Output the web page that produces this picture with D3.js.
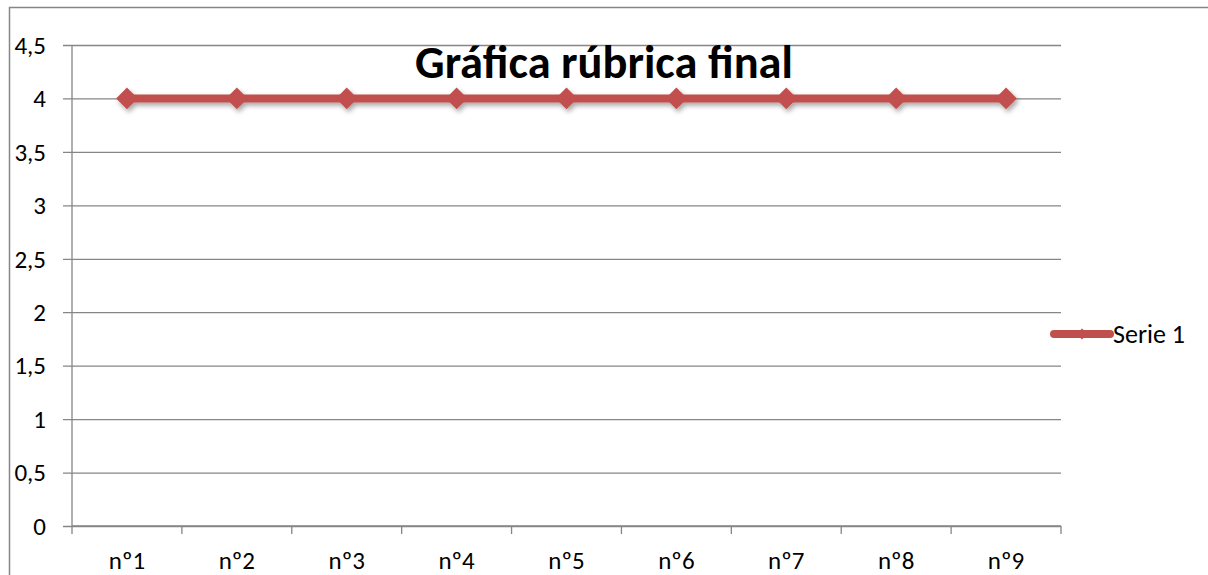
<!DOCTYPE html>
<html>
<head>
<meta charset="utf-8">
<script src="https://cdn.jsdelivr.net/npm/d3@7"></script>
<style>
  body { margin: 0; background: #fff; }
  svg { display: block; font-family: Carlito, Calibri, "Open Sans", sans-serif; }
</style>
</head>
<body>
<div id="chart"></div>
<script>
const categories = ["nº1", "nº2", "nº3", "nº4", "nº5", "nº6", "nº7", "nº8", "nº9"];
const serie1 = [4, 4, 4, 4, 4, 4, 4, 4, 4];
const yTicks = [0, 0.5, 1, 1.5, 2, 2.5, 3, 3.5, 4, 4.5];
const seriesName = "Serie 1";
const title = "Gráfica rúbrica final";

const width = 1208, height = 575;
const margin = {left: 72, right: 147, top: 45, bottom: 49};
const lineColor = "#C0504D";
const gridColor = "#868686";
const fontFam = 'Carlito, Calibri, "Open Sans", sans-serif';

const svg = d3.select("#chart").append("svg")
  .attr("width", width)
  .attr("height", height);

const defs = svg.append("defs");
const f = defs.append("filter").attr("id", "shadow")
  .attr("x", "-20%").attr("y", "-50%").attr("width", "140%").attr("height", "200%");
f.append("feDropShadow").attr("dx", 2).attr("dy", 3).attr("stdDeviation", 2.5)
  .attr("flood-color", "#000").attr("flood-opacity", 0.35);

// outer chart border (cut off on the right and bottom)
svg.append("rect")
  .attr("x", 9.5).attr("y", 7.5)
  .attr("width", width + 20).attr("height", height + 20)
  .attr("fill", "none").attr("stroke", gridColor).attr("stroke-width", 1.5);

const x = d3.scaleBand()
  .domain(categories)
  .range([margin.left, width - margin.right]);

const y = d3.scaleLinear()
  .domain([0, 4.5])
  .range([height - margin.bottom, margin.top]);

// gridlines + y axis
const yAxis = svg.append("g")
  .attr("transform", "translate(" + margin.left + ",0)")
  .call(d3.axisLeft(y).tickValues(yTicks)
    .tickFormat(d => String(d).replace(".", ","))
    .tickSize(0).tickPadding(0))
  .attr("font-family", fontFam);
yAxis.select(".domain").remove();
yAxis.selectAll(".tick line")
  .attr("x1", -9).attr("x2", width - margin.right - margin.left)
  .attr("stroke", gridColor).attr("stroke-width", 1.3);
yAxis.selectAll(".tick text")
  .attr("x", -26).attr("dy", "0.33em")
  .attr("font-size", 25).attr("fill", "#000");

svg.append("line")
  .attr("x1", margin.left).attr("x2", margin.left)
  .attr("y1", y(4.5)).attr("y2", y(0))
  .attr("stroke", gridColor).attr("stroke-width", 1.3);

// x axis
const xAxis = svg.append("g")
  .attr("transform", "translate(0," + y(0) + ")")
  .call(d3.axisBottom(x).tickSize(0).tickPadding(0))
  .attr("font-family", fontFam);
xAxis.select(".domain").attr("stroke", gridColor).attr("stroke-width", 1.3)
  .attr("d", "M" + margin.left + ",0H" + (width - margin.right));
xAxis.selectAll(".tick line").remove();
xAxis.selectAll(".tick text").attr("y", 43).attr("dy", 0)
  .attr("font-size", 25).attr("fill", "#000");
const bounds = categories.map(c => x(c)).concat([x(categories[categories.length - 1]) + x.bandwidth()]);
xAxis.selectAll(".bound").data(bounds).enter().append("line")
  .attr("x1", d => d).attr("x2", d => d)
  .attr("y1", 0).attr("y2", 8)
  .attr("stroke", gridColor).attr("stroke-width", 1.3);

// series line
const line = d3.line()
  .x((d, i) => x(categories[i]) + x.bandwidth() / 2)
  .y(d => y(d));

const plot = svg.append("g").attr("filter", "url(#shadow)");
plot.append("path")
  .datum(serie1)
  .attr("d", line)
  .attr("fill", "none")
  .attr("stroke", lineColor)
  .attr("stroke-width", 8);

const diamond = d3.symbol().type(d3.symbolDiamond2).size(300);
plot.selectAll(".pt").data(serie1).enter().append("path")
  .attr("transform", (d, i) => "translate(" + (x(categories[i]) + x.bandwidth() / 2) + "," + y(d) + ")")
  .attr("d", diamond)
  .attr("fill", lineColor);

// title
const t = svg.append("text")
  .attr("x", 604).attr("y", 78)
  .attr("text-anchor", "middle")
  .attr("font-size", 38).attr("font-weight", "bold")
  .attr("fill", "#000")
  .text(title);
const tw = t.node().getComputedTextLength();
if (tw > 0) t.attr("font-size", 38 * 378 / tw);

// legend
const lg = svg.append("g").attr("transform", "translate(1052,334)");
lg.append("line").attr("x1", 2).attr("x2", 58)
  .attr("stroke", lineColor).attr("stroke-width", 8).attr("stroke-linecap", "round");
lg.append("path").attr("transform", "translate(30,0)")
  .attr("d", d3.symbol().type(d3.symbolDiamond2).size(80))
  .attr("fill", lineColor);
lg.append("text").attr("x", 61).attr("y", 0).attr("dy", "0.33em")
  .attr("font-size", 26).attr("fill", "#000").text(seriesName);
</script>
</body>
</html>
